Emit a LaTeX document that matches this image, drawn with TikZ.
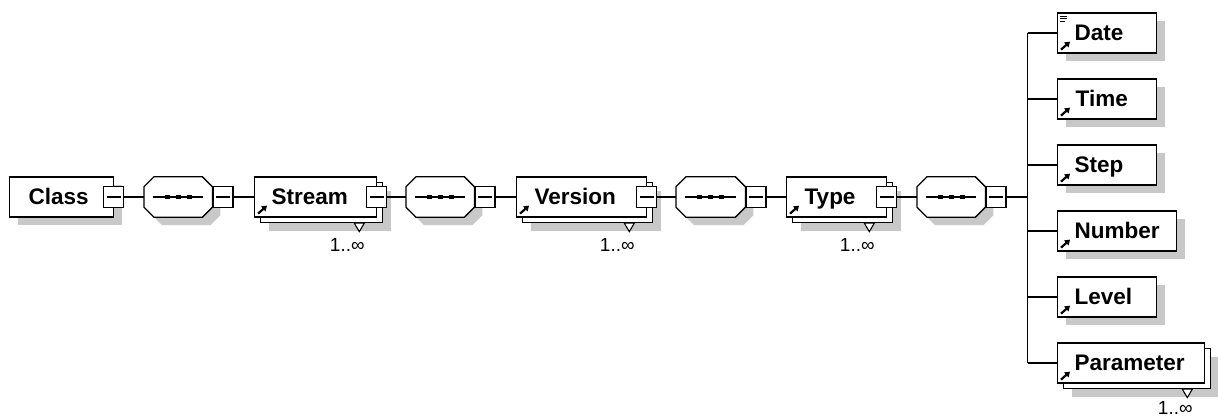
\documentclass[tikz,border=0pt]{standalone}
\usepackage{fontspec}
\setmainfont{Liberation Sans}
\usetikzlibrary{arrows.meta,calc,shadows}
\definecolor{shadowgray}{RGB}{200,200,200}
\tikzset{
  ln/.style={line width=1.3pt},
  elem/.style={draw, ln, fill=white, rectangle, inner xsep=0pt, inner ysep=0pt,
    minimum height=40pt, text height=27.5pt, text depth=12.5pt, align=left,
    anchor=west, font=\fontsize{22.5}{27}\selectfont\bfseries},
  shad/.style={drop shadow={shadow xshift=8pt, shadow yshift=-8pt, fill=shadowgray, opacity=1}},
  backbox/.style={draw, ln, fill=white, rectangle, inner sep=0pt, minimum height=40pt, anchor=west, shad},
  seq/.style={rectangle, inner sep=0pt, minimum height=40pt, anchor=west},
  minus/.style={draw, ln, fill=white, rectangle, inner sep=0pt, minimum width=20pt, minimum height=21pt,
    path picture={\draw[ln] ([xshift=3pt]path picture bounding box.west) -- ([xshift=-3pt]path picture bounding box.east);}},
  mult/.style={font=\fontsize{19}{22}\selectfont, inner sep=0pt},
  refarrow/.style={line width=2.2pt, -{Triangle[length=5pt,width=6.5pt]}}
}
\newcommand\octpath[1]{([xshift=10pt]#1.north west) -- ([xshift=-10pt]#1.north east) -- ([yshift=-10pt]#1.north east) -- ([yshift=10pt]#1.south east) -- ([xshift=-10pt]#1.south east) -- ([xshift=10pt]#1.south west) -- ([yshift=10pt]#1.south west) -- ([yshift=-10pt]#1.north west) -- cycle}
\newcommand\seqoct[1]{%
  \fill[shadowgray, transform canvas={shift={(8pt,-8pt)}}] \octpath{#1};
  \draw[ln, fill=white] \octpath{#1};
  \draw[ln] ([xshift=9pt]#1.west) -- ([xshift=-9pt]#1.east);
  \foreach \d in {-11,0,11} {\fill ([xshift=\d pt]#1.center) +(-2.5,-2) rectangle +(2.5,2);}
}
\newcommand\refmark[1]{\draw[refarrow] ([xshift=4pt,yshift=4pt]#1.south west) -- ([xshift=13pt,yshift=12pt]#1.south west);}
\newcommand\multmark[3]{%
  \draw[line width=1.1pt, fill=white] ([xshift=-29pt]#1.south east) -- ([xshift=-19pt]#1.south east) -- ([xshift=-24pt,yshift=-8.5pt]#1.south east) -- cycle;
  \node[mult] (#2) at ([xshift=-36pt,yshift=#3]#1.south east) {1..\char"221E};
}
\begin{document}
\begin{tikzpicture}[x=1pt,y=-1pt]
\useasboundingbox (0,0) rectangle (1218,417);

% Class
\node[elem, shad, text width=104pt] (class) at (9,197) {\hspace*{19pt}Class};
\node[minus] (classm) at ([xshift=-0.5pt]class.east) {};

% sequence 1
\node[seq, minimum width=68pt] (q1) at (144,197) {};
\seqoct{q1}
\node[minus, anchor=west] (q1m) at (q1.east) {};

% Stream
\node[backbox, minimum width=122pt] (streamb) at (260,202.5) {};
\node[elem, text width=122pt] (stream) at (254,197) {\hspace*{17pt}Stream};
\node[minus] (streamm) at ([xshift=-0.5pt]stream.east) {};
\refmark{stream}
\multmark{streamb}{streaml}{-22pt}

% sequence 2
\node[seq, minimum width=68pt] (q2) at (406,197) {};
\seqoct{q2}
\node[minus, anchor=west] (q2m) at (q2.east) {};

% Version
\node[backbox, minimum width=130pt] (versionb) at (522,202.5) {};
\node[elem, text width=130pt] (version) at (516,197) {\hspace*{18pt}Version};
\node[minus] (versionm) at ([xshift=-0.5pt]version.east) {};
\refmark{version}
\multmark{versionb}{versionl}{-22pt}

% sequence 3
\node[seq, minimum width=69pt] (q3) at (676,197) {};
\seqoct{q3}
\node[minus, anchor=west] (q3m) at (q3.east) {};

% Type
\node[backbox, minimum width=100pt] (typeb) at (792,202.5) {};
\node[elem, text width=100pt] (type) at (786,197) {\hspace*{18pt}Type};
\node[minus] (typem) at ([xshift=-0.5pt]type.east) {};
\refmark{type}
\multmark{typeb}{typel}{-22pt}

% sequence 4
\node[seq, minimum width=68pt] (q4) at (917,197) {};
\seqoct{q4}
\node[minus, anchor=west] (q4m) at (q4.east) {};

% children
\node[elem, shad, text width=99pt] (date) at (1057,33) {\hspace*{17pt}Date};
\refmark{date}
\draw[line width=1pt] ([xshift=3pt,yshift=-3.7pt]date.north west) -- +(6.5,0);
\draw[line width=1pt] ([xshift=3pt,yshift=-6.5pt]date.north west) -- +(6.5,0);
\draw[line width=1pt] ([xshift=3pt,yshift=-9.3pt]date.north west) -- +(5,0);
\node[elem, shad, text width=99pt] (time) at (1057,99) {\hspace*{18pt}Time};
\refmark{time}
\node[elem, shad, text width=99pt] (step) at (1057,165) {\hspace*{17pt}Step};
\refmark{step}
\node[elem, shad, text width=119pt] (number) at (1057,231) {\hspace*{17pt}Number};
\refmark{number}
\node[elem, shad, text width=99pt] (level) at (1057,297) {\hspace*{17pt}Level};
\refmark{level}
\node[backbox, minimum width=147pt] (parameterb) at (1063,368.5) {};
\node[elem, text width=147pt] (parameter) at (1057,363) {\hspace*{17pt}Parameter};
\refmark{parameter}
\multmark{parameterb}{parameterl}{-18.5pt}

% connectors
\coordinate (bar) at (1027.5,197);
\draw[ln] (classm.east) -- (q1.west);
\draw[ln] (q1m.east) -- (stream.west);
\draw[ln] (streamm.east) -- (q2.west);
\draw[ln] (q2m.east) -- (version.west);
\draw[ln] (versionm.east) -- (q3.west);
\draw[ln] (q3m.east) -- (type.west);
\draw[ln] (typem.east) -- (q4.west);
\draw[ln] (q4m.east) -- (bar);
\draw[ln] (date.west -| bar) -- (parameter.west -| bar);
\foreach \c in {date,time,step,number,level,parameter} {\draw[ln] (\c.west -| bar) -- (\c.west);}
\end{tikzpicture}
\end{document}
